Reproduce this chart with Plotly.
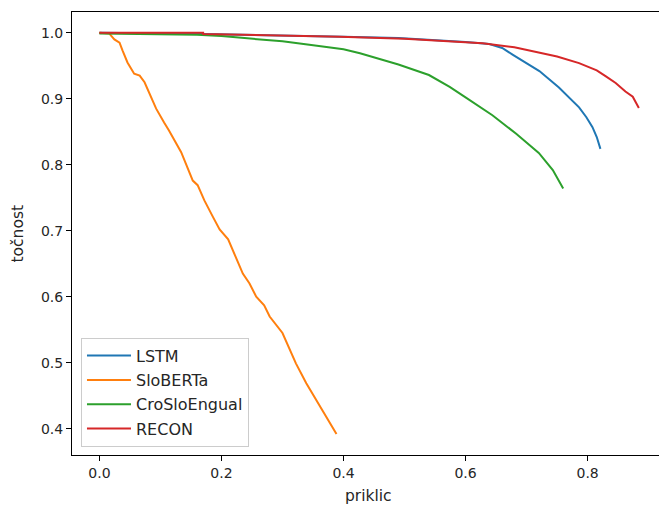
import plotly.graph_objects as go

# ---- data ----
lstm_x = [0, 0.05, 0.1, 0.17, 0.25, 0.3, 0.4, 0.49, 0.55, 0.6, 0.639, 0.66, 0.677, 0.71, 0.721, 0.753, 0.764, 0.786, 0.798, 0.808, 0.815, 0.821]
lstm_y = [1.0, 1.0, 0.999, 0.998, 0.997, 0.996, 0.994, 0.992, 0.989, 0.986, 0.983, 0.977, 0.967, 0.948, 0.942, 0.917, 0.907, 0.887, 0.872, 0.857, 0.842, 0.824]

slob_x = [0, 0.016, 0.0245, 0.033, 0.038, 0.046, 0.057, 0.066, 0.074, 0.082, 0.093, 0.106, 0.114, 0.134, 0.153, 0.161, 0.172, 0.186, 0.197, 0.211, 0.235, 0.246, 0.257, 0.270, 0.279, 0.300, 0.322, 0.339, 0.352, 0.369, 0.3885]
slob_y = [1.0, 0.999, 0.990, 0.985, 0.973, 0.955, 0.938, 0.935, 0.925, 0.908, 0.885, 0.864, 0.852, 0.819, 0.776, 0.769, 0.746, 0.721, 0.702, 0.687, 0.635, 0.620, 0.600, 0.587, 0.570, 0.545, 0.499, 0.469, 0.449, 0.424, 0.392]

cro_x = [0, 0.1, 0.16, 0.2, 0.263, 0.3, 0.344, 0.377, 0.4, 0.427, 0.46, 0.49, 0.54, 0.574, 0.6, 0.644, 0.683, 0.72, 0.743, 0.76]
cro_y = [0.999, 0.998, 0.997, 0.995, 0.990, 0.987, 0.982, 0.978, 0.975, 0.969, 0.960, 0.952, 0.936, 0.918, 0.902, 0.875, 0.847, 0.818, 0.792, 0.764]

recon_x = [0, 0.17, 0.17, 0.3, 0.394, 0.5, 0.54, 0.6, 0.628, 0.68, 0.71, 0.75, 0.786, 0.815, 0.83, 0.846, 0.862, 0.874, 0.884]
recon_y = [1.0, 1.0, 0.998, 0.996, 0.994, 0.991, 0.989, 0.986, 0.984, 0.978, 0.972, 0.964, 0.954, 0.943, 0.934, 0.924, 0.911, 0.903, 0.886]

x_ticks = [0.0, 0.2, 0.4, 0.6, 0.8]
y_ticks = [0.4, 0.5, 0.6, 0.7, 0.8, 0.9, 1.0]

series = [
    ("LSTM", lstm_x, lstm_y, "#1f77b4"),
    ("SloBERTa", slob_x, slob_y, "#ff7f0e"),
    ("CroSloEngual", cro_x, cro_y, "#2ca02c"),
    ("RECON", recon_x, recon_y, "#d62728"),
]

FONT = "DejaVu Sans"
TXT = "#262626"
fig = go.Figure()
for i, (name, xs, ys, col) in enumerate(series):
    fig.add_trace(go.Scatter(x=xs, y=ys, mode="lines", name=name,
                             legendgroup=f"g{i}",
                             line=dict(color=col, width=2)))

axis_common = dict(showline=True, linecolor="black", linewidth=1.1,
                   ticks="outside", ticklen=5, tickwidth=1.1, tickcolor="black",
                   showgrid=False, zeroline=False, automargin=False,
                   tickfont=dict(family=FONT, size=14, color=TXT))

fig.update_layout(
    width=659, height=505,
    margin=dict(l=72, r=0, t=12, b=50),
    paper_bgcolor="white", plot_bgcolor="white",
    font=dict(family=FONT, size=14, color=TXT),
    xaxis=dict(range=[-0.0449, 0.917], tickvals=x_ticks, mirror=True,
               ticktext=[f"{v:.1f}" for v in x_ticks], **axis_common),
    yaxis=dict(range=[0.3601, 1.0315], tickvals=y_ticks, mirror=False,
               ticktext=[f"{v:.1f}" for v in y_ticks], **axis_common),
    legend=dict(x=0.0153, y=0.0187, xanchor="left", yanchor="bottom",
                bgcolor="rgba(255,255,255,0.8)", bordercolor="#cccccc",
                borderwidth=1, tracegroupgap=0.5, itemwidth=44,
                font=dict(family=FONT, size=16, color=TXT)),
    showlegend=True,
    annotations=[
        dict(text="priklic", xref="paper", yref="paper", x=0.505, y=-0.093,
             xanchor="center", yanchor="middle", showarrow=False,
             font=dict(family=FONT, size=15.5, color=TXT)),
        dict(text="točnost", xref="paper", yref="paper", x=-0.092, y=0.5,
             xanchor="center", yanchor="middle", showarrow=False, textangle=-90,
             font=dict(family=FONT, size=15.5, color=TXT)),
    ],
)

fig.write_html("out.html", config={"displayModeBar": False},
               post_script="document.body.style.margin='0';document.body.style.overflow='hidden';")
